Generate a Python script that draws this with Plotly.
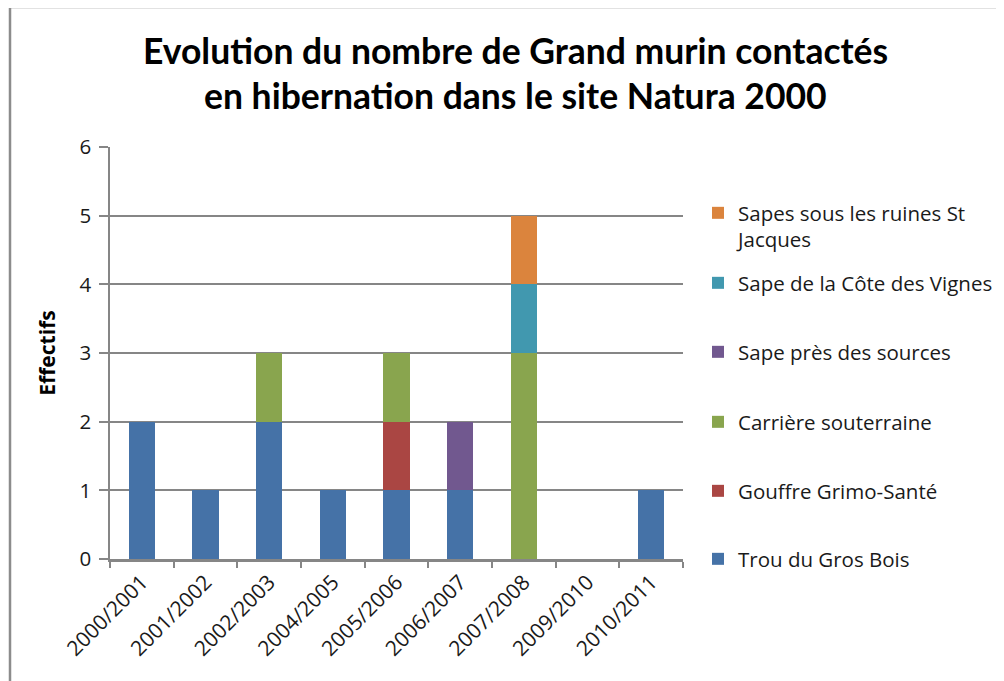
import plotly.graph_objects as go

categories = ["2000/2001", "2001/2002", "2002/2003", "2004/2005", "2005/2006",
              "2006/2007", "2007/2008", "2009/2010", "2010/2011"]

trou_du_gros_bois = [2, 1, 2, 1, 1, 1, 0, 0, 1]
gouffre_grimo_sante = [0, 0, 0, 0, 1, 0, 0, 0, 0]
carriere_souterraine = [0, 0, 1, 0, 1, 0, 3, 0, 0]
sape_pres_des_sources = [0, 0, 0, 0, 0, 1, 0, 0, 0]
sape_cote_des_vignes = [0, 0, 0, 0, 0, 0, 1, 0, 0]
sapes_ruines_st_jacques = [0, 0, 0, 0, 0, 0, 1, 0, 0]

series_names = ["Trou du Gros Bois", "Gouffre Grimo-Santé", "Carrière souterraine",
                "Sape près des sources", "Sape de la Côte des Vignes",
                "Sapes sous les ruines St<br>Jacques"]
series_values = [trou_du_gros_bois, gouffre_grimo_sante, carriere_souterraine,
                 sape_pres_des_sources, sape_cote_des_vignes, sapes_ruines_st_jacques]
colors = ["#4572A7", "#AA4643", "#89A54E", "#71588F", "#4198AF", "#DB843D"]

y_ticks = [0, 1, 2, 3, 4, 5, 6]

# layout geometry (screen pixels); page body has an 8px offset
OFF = 8
W, H = 1004, 681
PL, PR, PT, PB = 110, 683, 147, 559   # plot area on screen
L = PL - OFF
T = PT - OFF
pw = PR - PL
ph = PB - PT
R = W - L - pw
B = H - T - ph

def px_x(x):
    return (x - PL) / pw

def px_y(y):
    return (PB - y) / ph

FONT = "'Open Sans', Lato, 'Liberation Sans', sans-serif"
TFONT = "Lato, 'Open Sans', sans-serif"

fig = go.Figure()
legend_centers = [559, 491, 422, 352, 283, 210]
for i, (name, vals, col) in enumerate(zip(series_names, series_values, colors)):
    lg = "legend" if i == 0 else f"legend{i+1}"
    fig.add_trace(go.Bar(
        x=categories, y=vals, name=name,
        marker=dict(color=col, line=dict(width=0)),
        legend=lg,
    ))

layout_legends = {}
for i, yc in enumerate(legend_centers):
    key = "legend" if i == 0 else f"legend{i+1}"
    if i == 5:
        ydict = dict(y=px_y(yc - 17), yanchor="top", valign="top")
    else:
        ydict = dict(y=px_y(yc), yanchor="middle")
    layout_legends[key] = dict(
        x=px_x(698), xanchor="left",
        font=dict(family=FONT, size=20.5, color="#1a1a1a"),
        bgcolor="rgba(0,0,0,0)", itemwidth=30,
        **ydict,
    )

fig.update_layout(
    width=W, height=H,
    margin=dict(l=L, r=R, t=T, b=B),
    barmode="stack",
    bargap=0.59,
    plot_bgcolor="white",
    paper_bgcolor="white",
    showlegend=True,
    font=dict(family=FONT, color="#1a1a1a"),
    xaxis=dict(
        type="category",
        tickangle=-45,
        tickson="boundaries",
        ticks="outside", ticklen=6, tickcolor="#868686", tickwidth=1.5,
        showline=True, linecolor="#868686", linewidth=2.5,
        showgrid=False,
        tickfont=dict(family=FONT, size=21, color="#1a1a1a"),
    ),
    yaxis=dict(
        range=[0, 6],
        tickvals=y_ticks,
        ticks="outside", ticklen=9, tickcolor="#868686", tickwidth=1.5,
        showline=True, linecolor="#868686", linewidth=1.5,
        showgrid=True, gridcolor="#868686", gridwidth=1.5,
        zeroline=False,
        ticklabelstandoff=4,
        tickfont=dict(family=FONT, size=20.5, color="#1a1a1a"),
        title=dict(text="<b>Effectifs</b>", font=dict(family=FONT, size=21, color="#000"), standoff=18),
    ),
    **layout_legends,
)

fig.add_annotation(text="<b>Evolution du nombre de Grand murin contactés</b>",
                   xref="paper", yref="paper", x=px_x(515), y=px_y(50),
                   xanchor="center", yanchor="middle", showarrow=False,
                   font=dict(family=TFONT, size=35.5, color="#000"))
fig.add_annotation(text="<b>en hibernation dans le site Natura 2000</b>",
                   xref="paper", yref="paper", x=px_x(515), y=px_y(96),
                   xanchor="center", yanchor="middle", showarrow=False,
                   font=dict(family=TFONT, size=35.5, color="#000"))

fig.add_shape(type="rect", xref="paper", yref="paper",
              x0=px_x(10), x1=px_x(1030), y0=px_y(720), y1=px_y(7),
              line=dict(color="#8c8c8c", width=2.5), layer="below")

fig.write_html("out.html")
